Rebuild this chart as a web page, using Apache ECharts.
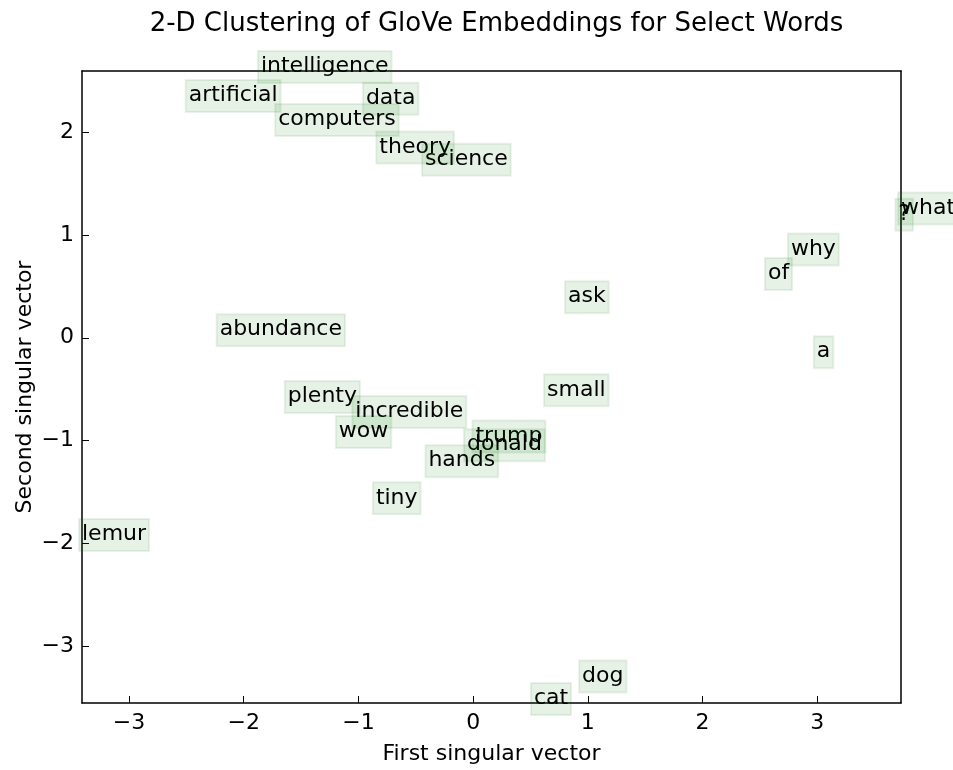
<!DOCTYPE html>
<html>
<head>
<meta charset="utf-8">
<script src="https://cdn.jsdelivr.net/npm/echarts@6/dist/echarts.min.js"></script>
<style>
  html, body { margin: 0; padding: 0; background: #fff; }
  #chart { width: 953px; height: 770px; }
</style>
</head>
<body>
<div id="chart"></div>
<script>
// Words and their 2-D SVD projections (first / second singular vector)
const words = [
  'artificial', 'intelligence', 'data', 'computers', 'theory', 'science',
  'what', '?', 'why', 'of', 'ask', 'a', 'abundance', 'small', 'plenty',
  'incredible', 'wow', 'trump', 'donald', 'hands', 'tiny', 'lemur', 'dog', 'cat'
];
const firstVec = [
  -2.48, -1.85, -0.935, -1.70, -0.818, -0.42,
  3.73, 3.707, 2.77, 2.57, 0.827, 2.996, -2.21, 0.644, -1.616,
  -1.027, -1.171, 0.02, -0.054, -0.39, -0.848, -3.41, 0.95, 0.53
];
const secondVec = [
  2.316, 2.598, 2.29, 2.083, 1.813, 1.694,
  1.22, 1.16, 0.82, 0.583, 0.356, -0.179, 0.035, -0.551, -0.616,
  -0.762, -0.956, -1.0, -1.086, -1.241, -1.603, -1.96, -3.337, -3.557
];
const xTicks = [-3, -2, -1, 0, 1, 2, 3];
const yTicks = [-3, -2, -1, 0, 1, 2];

const FONT = '"DejaVu Sans", "Noto Sans", sans-serif';
const fmt = v => (v < 0 ? '\u2212' + Math.abs(v) : String(v));

const points = words.map((w, i) => [firstVec[i], secondVec[i]]);

const spine = { show: true, onZero: false, lineStyle: { color: '#000', width: 1.5 } };

const chart = echarts.init(document.getElementById('chart'), null, { renderer: 'canvas' });

chart.setOption({
  animation: false,
  backgroundColor: '#fff',
  title: {
    text: '2-D Clustering of GloVe Embeddings for Select Words',
    left: 491.5,
    textAlign: 'center',
    top: 6,
    textStyle: { fontFamily: FONT, fontSize: 26, fontWeight: 'normal', color: '#000' }
  },
  grid: { left: 82, right: 52, top: 71, bottom: 66, containLabel: false },
  xAxis: [
    {
      type: 'value', position: 'bottom', min: 'dataMin', max: 'dataMax',
      axisLine: spine,
      axisTick: { show: true, inside: true, length: 7, customValues: xTicks, lineStyle: { color: '#000', width: 1 } },
      axisLabel: { show: true, customValues: xTicks, formatter: fmt, margin: 9, color: '#000', fontFamily: FONT, fontSize: 22 },
      splitLine: { show: false },
      name: 'First singular vector', nameLocation: 'middle', nameGap: 40, nameMoveOverlap: false,
      nameTextStyle: { fontFamily: FONT, fontSize: 22, color: '#000' }
    },
    {
      type: 'value', position: 'top', min: 'dataMin', max: 'dataMax',
      axisLine: spine,
      axisTick: { show: true, inside: true, length: 7, customValues: xTicks, lineStyle: { color: '#000', width: 1 } },
      axisLabel: { show: false },
      splitLine: { show: false }
    }
  ],
  yAxis: [
    {
      type: 'value', position: 'left', min: 'dataMin', max: 'dataMax',
      axisLine: spine,
      axisTick: { show: true, inside: true, length: 7, customValues: yTicks, lineStyle: { color: '#000', width: 1 } },
      axisLabel: { show: true, customValues: yTicks, formatter: fmt, margin: 8, color: '#000', fontFamily: FONT, fontSize: 22 },
      splitLine: { show: false },
      name: 'Second singular vector', nameLocation: 'middle', nameGap: 46, nameMoveOverlap: false,
      nameTextStyle: { fontFamily: FONT, fontSize: 22, color: '#000' }
    },
    {
      type: 'value', position: 'right', min: 'dataMin', max: 'dataMax',
      axisLine: spine,
      axisTick: { show: true, inside: true, length: 7, customValues: yTicks, lineStyle: { color: '#000', width: 1 } },
      axisLabel: { show: false },
      splitLine: { show: false }
    }
  ],
  series: [
    {
      // each word is written with its baseline-left corner at its projected point
      type: 'custom',
      xAxisIndex: 0,
      yAxisIndex: 0,
      clip: false,
      data: points,
      renderItem: (params, api) => {
        const p = api.coord([api.value(0), api.value(1)]);
        return {
          type: 'text',
          x: p[0] - 3,
          y: p[1] - 20,
          style: {
            text: words[params.dataIndex],
            fill: '#000',
            font: '22px ' + FONT,
            align: 'left',
            verticalAlign: 'top',
            lineHeight: 26,
            padding: [2.5, 3, 3.5, 3],
            backgroundColor: 'rgba(0,128,0,0.1)',
            borderColor: 'rgba(0,90,0,0.08)',
            borderWidth: 1
          }
        };
      }
    }
  ]
});
</script>
</body>
</html>
